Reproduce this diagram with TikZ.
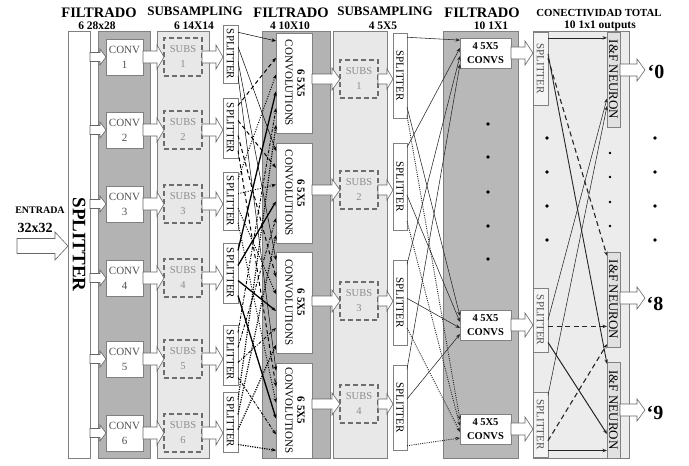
\documentclass[tikz,border=0pt]{standalone}
\usepackage{fontspec}
\setmainfont{Liberation Serif}
\usetikzlibrary{calc,arrows.meta}
\definecolor{darkcol}{HTML}{B3B3B3}
\definecolor{darkcolE}{HTML}{B8B8B8}
\definecolor{lightcol}{HTML}{E8E8E8}
\definecolor{lightcolF}{HTML}{ECECEC}
\definecolor{edge}{HTML}{808080}
\definecolor{subtext}{HTML}{8C8C8C}
\definecolor{convtext}{HTML}{505050}
\newcommand{\hollowarr}[5]{%
  \draw[harrowst] let \p1=(#1), \p2=(#2) in
   ({\x1},{\y1+#3}) -- ({\x2-#5},{\y1+#3}) -- ({\x2-#5},{\y1+#4}) -- ({\x2},{\y1})
   -- ({\x2-#5},{\y1-#4}) -- ({\x2-#5},{\y1-#3}) -- ({\x1},{\y1-#3}) -- cycle;}
\tikzset{
  colbg/.style={draw=edge, line width=0.6pt, inner sep=0pt, outer sep=0pt},
  wbox/.style={draw=edge, fill=white, line width=0.6pt, inner sep=0pt, outer sep=0pt},
  convbox/.style={wbox, minimum width=37pt, minimum height=36pt, align=center,
     text=convtext, font=\fontsize{11}{15}\selectfont},
  subsbox/.style={draw=edge!85!black, fill=lightcol, dash pattern=on 5pt off 3pt, line width=1.1pt,
     inner sep=0pt, outer sep=0pt, minimum width=38pt, minimum height=38pt, align=center,
     text=subtext, font=\fontsize{10.5}{15}\selectfont},
  splitbox/.style={wbox, minimum width=15pt, font=\fontsize{11}{13}\selectfont},
  bigconv/.style={wbox, minimum width=36pt, font=\fontsize{11}{13}\selectfont},
  cvsbox/.style={wbox, minimum width=51pt, minimum height=30pt, align=center,
     font=\fontsize{10.5}{14}\selectfont\bfseries},
  ifbox/.style={draw=edge, fill=lightcolF!90!gray, line width=0.6pt, inner sep=0pt, outer sep=0pt,
     minimum width=13pt, font=\fontsize{13}{15}\selectfont},
  harrowst/.style={draw=edge!80!black, fill=white, line width=0.6pt, line join=miter},
  title/.style={anchor=base, inner sep=0pt, font=\fontsize{14.5}{16}\selectfont\bfseries},
  subtitle/.style={anchor=base, inner sep=0pt, font=\fontsize{11.5}{13}\selectfont\bfseries},
  arr/.style={-{Stealth[length=4.5pt,width=3.5pt]}},
  lsA/.style={line width=0.5pt},
  lsB/.style={line width=1pt, dash pattern=on 4pt off 3pt},
  lsC/.style={line width=1pt, dash pattern=on 1pt off 1.5pt},
  lsD/.style={line width=1.3pt},
  lsE/.style={line width=0.9pt, dash pattern=on 3pt off 1.5pt on 1pt off 1.5pt},
  lsF/.style={line width=1.2pt, dash pattern=on 1.2pt off 1.2pt},
  lsel/.code={\ifcase#1\or\tikzset{lsA}\or\tikzset{lsB}\or\tikzset{lsC}\or\tikzset{lsD}\or\tikzset{lsE}\or\tikzset{lsF}\fi},
  thinl/.style={arr, line width=0.55pt, draw=black!85},
  dotl/.style={arr, line width=0.9pt, dash pattern=on 1pt off 1.2pt, draw=black!85},
  dashl/.style={arr, line width=1.1pt, dash pattern=on 5pt off 3.5pt, draw=black!85},
  dot/.style={circle, fill=black, inner sep=0pt, minimum size=3.6pt},
  sdot/.style={circle, fill=black, inner sep=0pt, minimum size=2.6pt},
  outlbl/.style={inner sep=0pt, font=\fontsize{20}{22}\selectfont\bfseries}
}
\begin{document}
\begin{tikzpicture}[x=1pt,y=-1pt]
\fill[white] (0,0) rectangle (689,466);
\useasboundingbox (0,0) rectangle (689,466);

% titles
\node[title] (t1) at (99,17) {FILTRADO};
\node[title, font=\fontsize{13}{15}\selectfont\bfseries] (t2) at (195,15) {SUBSAMPLING};
\node[title] (t3) at (291,17) {FILTRADO};
\node[title, font=\fontsize{13}{15}\selectfont\bfseries] (t4) at (385,15) {SUBSAMPLING};
\node[title] (t5) at (482,17) {FILTRADO};
\node[title, font=\fontsize{10.8}{13}\selectfont\bfseries] (t6) at (599,16) {CONECTIVIDAD TOTAL};
\node[subtitle] (u1) at (97,29.5) {6 28x28};
\node[subtitle] (u2) at (194,29.5) {6 14X14};
\node[subtitle] (u3) at (290,29.5) {4 10X10};
\node[subtitle] (u4) at (383,29.5) {4 5X5};
\node[subtitle] (u5) at (491,29.5) {10 1X1};
\node[subtitle] (u6) at (600,28.5) {10 1x1 outputs};

% columns
\node[wbox, minimum width=22pt, minimum height=427pt] (bigsp) at (79,244.5)
   {\rotatebox{-90}{\fontsize{19}{21}\selectfont\bfseries SPLITTER}};
\node[colbg, fill=darkcol, minimum width=52pt, minimum height=427pt] (colA) at (124,244.5) {};
\node[colbg, fill=lightcol, minimum width=52pt, minimum height=427pt] (colB) at (183,244.5) {};
\node[colbg, fill=darkcol, minimum width=68pt, minimum height=427pt] (colC) at (296,244.5) {};
\node[colbg, fill=lightcol, minimum width=54pt, minimum height=427pt] (colD) at (360,244.5) {};
\node[colbg, fill=darkcolE, minimum width=75pt, minimum height=427pt] (colE) at (480.5,244.5) {};
\node[colbg, fill=lightcolF, minimum width=96pt, minimum height=427pt] (colF) at (581,244.5) {};

% entrada
\node[inner sep=0pt, font=\fontsize{10}{12}\selectfont\bfseries] (entr) at (40,210) {ENTRADA};
\node[inner sep=0pt, font=\fontsize{14}{16}\selectfont\bfseries] (dim) at (35,228) {32x32};
\coordinate (ein) at (17,246);
\hollowarr{ein}{bigsp.west |- ein}{7.5pt}{14pt}{13pt}

% conv and subs (first stage)
\foreach \k/\y in {1/57,2/130,3/204,4/278,5/359,6/433} {
  \node[convbox] (cv\k) at (124.5,\y) {CONV\\\k};
  \node[subsbox] (sb\k) at (183,\y) {SUBS\\\k};
}
% first splitters
\foreach \k/\y/\h in {1/54/58,2/128/60,3/201/58,4/273/60,5/355/60,6/422/60} {
  \node[splitbox, minimum height=\h] (sp\k) at (230.5,\y) {\rotatebox{-90}{SPLITTER}};
}
\foreach \k in {1,...,6} {
  \hollowarr{bigsp.east |- cv\k.west}{cv\k.west}{4.5pt}{8pt}{6pt}
  \hollowarr{cv\k.east}{sb\k.west}{6pt}{12pt}{7pt}
  \hollowarr{sb\k.east}{sp\k.west |- sb\k.east}{6pt}{12pt}{7pt}
}

% second filter boxes
\foreach \k/\y/\h in {1/83/100,2/193/100,3/302.5/101,4/410.5/95} {
  \node[bigconv, minimum height=\h] (kb\k) at (294,\y)
    {\rotatebox{-90}{\begin{tabular}{@{}c@{}}\textbf{6 5X5}\\[-1pt]CONVOLUTIONS\end{tabular}}};
}
% connections splitters -> 6 5x5 convolutions
\foreach \i in {1,...,6} {
  \foreach \j in {1,...,4} {
    \pgfmathsetmacro\fa{(\j-0.5)/4}
    \pgfmathsetmacro\fb{0.08+(\i-1)*0.168}
    \draw[arr, lsel=\i] ($(sp\i.north east)!\fa!(sp\i.south east)$) -- ($(kb\j.north west)!\fb!(kb\j.south west)$);
  }
}

% second subsampling
\foreach \k/\y in {1/79,2/190,3/301,4/404} {
  \node[subsbox] (kt\k) at (359,\y) {SUBS\\\k};
}
\foreach \k/\y/\h in {1/75.5/85,2/186.5/87,3/302.5/85,4/407.5/85} {
  \node[splitbox, minimum width=14pt, minimum height=\h] (kp\k) at (400,\y) {\rotatebox{-90}{SPLITTER}};
}
\foreach \k in {1,...,4} {
  \hollowarr{kb\k.east |- kt\k.west}{kt\k.west}{5pt}{11pt}{8pt}
  \hollowarr{kt\k.east}{kp\k.west |- kt\k.east}{5pt}{10pt}{6pt}
}

% third filter
\foreach \k/\y in {1/53,2/325,3/429} {
  \node[cvsbox] (fv\k) at (485.5,\y) {4 5X5\\CONVS};
}
\foreach \k/\y in {1/124,2/157,3/192,4/226,5/259} {
  \node[dot] (de\k) at (488,\y) {};
}
% splitters -> 4 5x5 convs
\draw[thinl] ($(kp1.north east)!0.05!(kp1.south east)$) -- ($(fv1.north west)!0.07!(fv1.south west)$);
\draw[thinl] ($(kp1.north east)!0.87!(kp1.south east)$) -- ($(fv2.north west)!0.2!(fv2.south west)$);
\draw[dotl]  ($(kp1.north east)!0.97!(kp1.south east)$) -- ($(fv3.north west)!0.2!(fv3.south west)$);
\draw[thinl] ($(kp2.north east)!0.05!(kp2.south east)$) -- ($(fv1.north west)!0.33!(fv1.south west)$);
\draw[thinl] ($(kp2.north east)!0.6!(kp2.south east)$) -- ($(fv2.north west)!0.4!(fv2.south west)$);
\draw[dotl]  ($(kp2.north east)!0.9!(kp2.south east)$) -- ($(fv3.north west)!0.4!(fv3.south west)$);
\draw[thinl] ($(kp3.north east)!0.05!(kp3.south east)$) -- ($(fv1.north west)!0.6!(fv1.south west)$);
\draw[thinl] ($(kp3.north east)!0.45!(kp3.south east)$) -- ($(fv2.north west)!0.6!(fv2.south west)$);
\draw[dotl]  ($(kp3.north east)!0.8!(kp3.south east)$) -- ($(fv3.north west)!0.6!(fv3.south west)$);
\draw[thinl] ($(kp4.north east)!0.05!(kp4.south east)$) -- ($(fv1.north west)!0.87!(fv1.south west)$);
\draw[thinl] ($(kp4.north east)!0.4!(kp4.south east)$) -- ($(fv2.north west)!0.8!(fv2.south west)$);
\draw[dotl]  ($(kp4.north east)!0.95!(kp4.south east)$) -- ($(fv3.north west)!0.8!(fv3.south west)$);

% total connectivity
\foreach \k/\y/\h in {1/68.5/73,2/320/64,3/424.5/65} {
  \node[splitbox, fill=lightcolF!60!white, text=convtext, minimum height=\h] (rs\k) at (540.5,\y) {\rotatebox{-90}{SPLITTER}};
}
\foreach \k/\y/\h in {1/79.5/95,2/299.5/95,3/410/96} {
  \node[ifbox, minimum height=\h] (ne\k) at (613.5,\y) {\rotatebox{-90}{I\&F NEURON}};
}
\foreach \k in {1,...,3} {
  \hollowarr{fv\k.east}{rs\k.west |- fv\k.east}{6pt}{12pt}{8pt}
}
\foreach \k/\y in {1/138,2/172,3/206,4/240} {
  \node[dot] (dl\k) at (547,\y) {};
  \node[dot] (do\k) at (655,\y) {};
}
\foreach \k/\y in {1/153,2/177,3/202,4/226} {
  \node[sdot] (dr\k) at (610,\y) {};
}
\coordinate (a11) at ($(rs1.north east)!0.08!(rs1.south east)$);
\draw[thinl] (a11) -- (a11 -| ne1.west);
\draw[dashl] ($(rs1.north east)!0.36!(rs1.south east)$) -- ($(ne2.north west)!0.04!(ne2.south west)$);
\draw[thinl, line width=0.9pt] ($(rs1.north east)!0.3!(rs1.south east)$) -- ($(ne3.north west)!0.02!(ne3.south west)$);
\draw[thinl] ($(rs2.north east)!0.5!(rs2.south east)$) -- ($(ne1.north west)!0.7!(ne1.south west)$);
\coordinate (a22) at ($(rs2.north east)!0.6!(rs2.south east)$);
\draw[dashl] (a22) -- (a22 -| ne2.west);
\draw[thinl, line width=1pt] ($(rs2.north east)!0.85!(rs2.south east)$) -- ($(ne3.north west)!0.75!(ne3.south west)$);
\draw[thinl] ($(rs3.north east)!0.05!(rs3.south east)$) -- ($(ne1.north west)!0.78!(ne1.south west)$);
\draw[dashl] ($(rs3.north east)!0.75!(rs3.south east)$) -- ($(ne2.north west)!0.97!(ne2.south west)$);
\coordinate (a33) at ($(rs3.north east)!0.9!(rs3.south east)$);
\draw[thinl, line width=0.9pt] (a33) -- (a33 -| ne3.west);

% outputs
\coordinate (o0) at (645,70);
\coordinate (o8) at (645,298);
\coordinate (o9) at (645,410);
\hollowarr{ne1.east |- o0}{o0}{6pt}{11pt}{8pt}
\hollowarr{ne2.east |- o8}{o8}{6pt}{11pt}{8pt}
\hollowarr{ne3.east |- o9}{o9}{6pt}{11pt}{8pt}
\node[outlbl] (l0) at (656,72) {‘0};
\node[outlbl] (l8) at (655,304) {‘8};
\node[outlbl] (l9) at (655,413) {‘9};
\end{tikzpicture}
\end{document}
